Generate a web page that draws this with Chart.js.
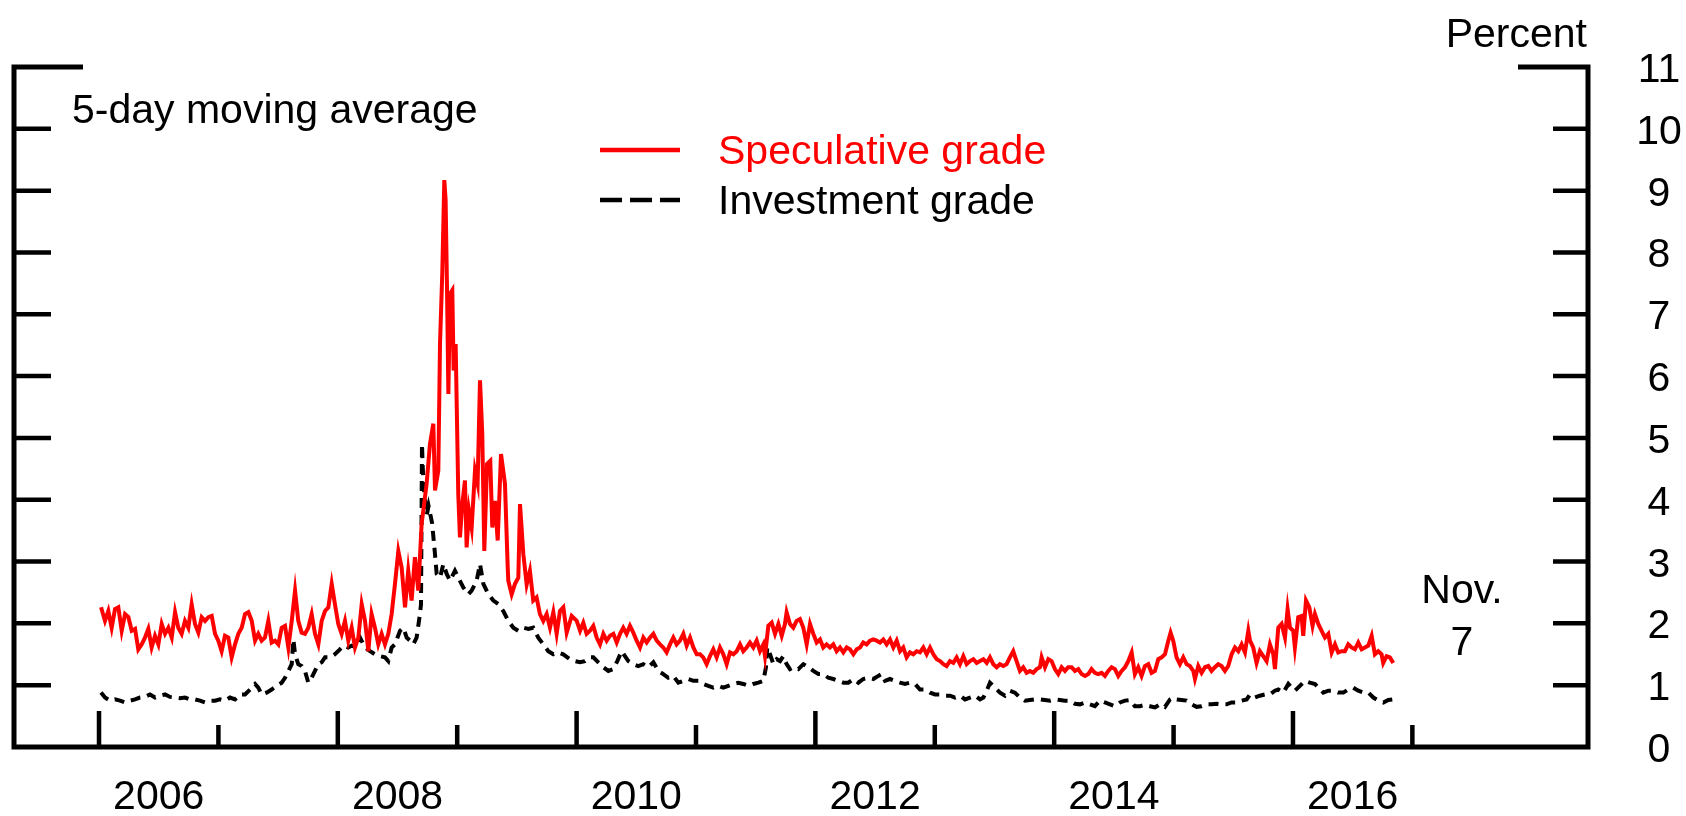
<!DOCTYPE html>
<html><head><meta charset="utf-8">
<script src="https://cdn.jsdelivr.net/npm/chart.js@4.4.1/dist/chart.umd.min.js"></script>
<style>html,body{margin:0;padding:0;background:#fff;}canvas{display:block;}</style>
</head><body>
<canvas id="c" width="1686" height="816"></canvas>
<script>
// Speculative grade (decimal year, percent)
const specDates = [
2006.017,2006.050,2006.078,2006.106,2006.134,2006.162,2006.190,2006.218,2006.246,2006.274,2006.302,2006.329,2006.357,2006.385,2006.413,2006.441,2006.469,2006.497,2006.525,2006.553,2006.581,2006.609,2006.637,2006.664,2006.692,2006.720,2006.748,2006.776,2006.804,2006.832,2006.860,2006.888,2006.916,2006.944,2006.972,2006.999,
2007.027,2007.055,2007.083,2007.111,2007.139,2007.167,2007.195,2007.223,2007.251,2007.279,2007.307,2007.334,2007.362,2007.390,2007.418,2007.446,2007.474,2007.502,2007.530,2007.558,2007.586,2007.614,2007.642,2007.669,2007.697,2007.725,2007.753,2007.781,2007.809,2007.837,2007.865,2007.893,2007.921,2007.949,2007.976,
2008.004,2008.032,2008.060,2008.088,2008.116,2008.144,2008.172,2008.200,2008.228,2008.256,2008.283,2008.311,2008.339,2008.367,2008.395,2008.423,2008.451,2008.479,2008.507,2008.535,2008.563,2008.590,2008.618,2008.646,2008.674,2008.702,
2008.716,2008.744,2008.772,2008.800,2008.814,2008.842,2008.856,2008.875,2008.892,2008.903,2008.915,2008.926,2008.940,2008.959,2008.970,2008.987,
2009.009,2009.023,2009.043,2009.065,2009.079,2009.099,2009.121,2009.149,2009.171,2009.191,2009.210,2009.227,2009.250,2009.277,2009.294,2009.317,2009.339,2009.367,2009.400,2009.423,
2009.428,2009.456,2009.484,2009.512,2009.526,2009.554,2009.582,2009.609,2009.637,2009.665,2009.693,2009.721,2009.749,2009.777,2009.805,2009.833,2009.861,2009.889,2009.917,2009.959,
2010.001,2010.029,2010.056,2010.084,2010.112,2010.140,2010.168,2010.196,2010.224,2010.252,2010.280,2010.308,2010.336,2010.364,2010.391,2010.419,2010.447,2010.475,2010.503,2010.531,2010.559,2010.587,2010.615,2010.643,2010.671,2010.699,2010.726,2010.754,2010.782,2010.810,2010.838,2010.866,2010.894,2010.922,2010.950,2010.978,
2011.006,2011.034,2011.061,2011.089,2011.117,2011.145,2011.173,2011.201,2011.229,2011.257,2011.285,2011.313,2011.341,2011.369,2011.396,2011.424,2011.452,2011.480,2011.508,2011.536,2011.564,2011.578,2011.606,2011.634,2011.662,2011.690,2011.718,2011.745,2011.759,2011.787,2011.815,2011.843,2011.871,2011.899,2011.927,2011.955,2011.983,
2012.011,2012.039,2012.066,2012.094,2012.122,2012.150,2012.178,2012.206,2012.234,2012.262,2012.290,2012.318,2012.346,2012.374,2012.401,2012.429,2012.457,2012.485,2012.513,2012.541,2012.569,2012.597,2012.625,2012.653,2012.681,2012.709,2012.736,2012.764,2012.792,2012.820,2012.848,2012.876,2012.904,2012.932,2012.960,2012.988,
2013.016,2013.044,2013.072,2013.099,2013.127,2013.155,2013.183,2013.211,2013.239,2013.267,2013.295,2013.323,2013.351,2013.379,2013.407,2013.435,2013.462,2013.490,2013.518,2013.546,2013.574,2013.602,2013.629,2013.657,2013.685,2013.713,2013.741,2013.769,2013.797,2013.825,2013.853,2013.881,2013.895,2013.923,2013.951,2013.978,
2014.006,2014.034,2014.062,2014.090,2014.118,2014.146,2014.174,2014.202,2014.230,2014.258,2014.286,2014.313,2014.341,2014.369,2014.397,2014.425,2014.453,2014.481,2014.509,2014.537,2014.565,2014.593,2014.621,2014.649,2014.676,2014.704,2014.732,2014.760,2014.788,2014.816,2014.844,2014.872,2014.900,2014.928,2014.956,2014.975,2014.997,
2015.025,2015.053,2015.081,2015.109,2015.137,2015.165,2015.179,2015.207,2015.235,2015.263,2015.291,2015.318,2015.346,2015.374,2015.402,2015.430,2015.458,2015.486,2015.514,2015.542,2015.570,2015.598,2015.626,2015.640,2015.667,2015.695,2015.723,2015.751,2015.779,2015.807,2015.835,2015.849,2015.877,2015.905,2015.933,2015.955,2015.975,
2016.002,2016.016,2016.044,2016.072,2016.086,2016.109,2016.137,2016.164,2016.184,2016.212,2016.240,2016.268,2016.296,2016.324,2016.352,2016.379,2016.407,2016.435,2016.463,2016.491,2016.519,2016.547,2016.575,2016.603,2016.631,2016.659,2016.686,2016.714,2016.742,2016.756,2016.784,2016.812,2016.840
];
const specValues = [
2.26,2.04,2.20,1.93,2.23,2.26,1.88,2.15,2.10,1.88,1.91,1.58,1.66,1.77,1.91,1.61,1.80,1.66,1.99,1.83,1.93,1.77,2.18,1.93,1.83,2.04,1.93,2.31,1.99,1.85,2.10,2.04,2.10,2.12,1.83,1.72,
1.55,1.80,1.77,1.45,1.66,1.83,1.93,2.15,2.18,2.04,1.72,1.83,1.72,1.77,2.04,1.69,1.72,1.66,1.93,1.96,1.61,2.04,2.53,2.04,1.85,1.83,1.93,2.15,1.83,1.66,2.04,2.20,2.26,2.64,2.31,
1.99,1.83,2.04,1.72,1.93,1.61,1.77,2.31,2.04,1.55,2.15,1.93,1.66,1.83,1.66,1.83,2.15,2.64,3.17,2.90,2.26,2.85,2.37,3.07,2.53,3.61,
3.82,4.26,4.90,5.23,4.15,4.47,6.52,7.66,9.17,8.85,7.39,5.71,7.33,7.39,6.09,6.52,
4.09,3.39,3.93,4.31,3.23,3.82,3.55,4.47,4.26,5.93,5.07,3.17,4.58,4.63,3.55,3.98,3.34,4.74,4.26,2.91,
2.69,2.47,2.64,2.74,3.93,3.12,2.63,2.85,2.37,2.42,2.15,2.04,2.15,1.93,2.18,1.83,2.20,2.26,1.85,2.12,
2.04,1.88,2.01,1.83,1.88,1.96,1.77,1.66,1.83,1.72,1.80,1.83,1.69,1.83,1.93,1.83,1.96,1.85,1.72,1.61,1.77,1.69,1.77,1.83,1.72,1.66,1.61,1.53,1.66,1.77,1.66,1.72,1.83,1.64,1.77,1.61,
1.50,1.50,1.45,1.34,1.47,1.58,1.45,1.61,1.50,1.34,1.53,1.50,1.55,1.66,1.55,1.61,1.69,1.61,1.72,1.55,1.66,1.47,1.96,2.01,1.83,1.99,1.80,1.99,2.18,1.99,1.93,2.04,2.07,1.93,1.66,1.99,1.83,
1.69,1.74,1.61,1.66,1.61,1.66,1.55,1.61,1.53,1.61,1.58,1.50,1.58,1.61,1.69,1.66,1.72,1.74,1.72,1.69,1.74,1.66,1.74,1.61,1.72,1.55,1.61,1.45,1.53,1.50,1.55,1.53,1.61,1.50,1.61,1.50,
1.42,1.39,1.34,1.31,1.39,1.36,1.45,1.34,1.47,1.34,1.39,1.42,1.36,1.39,1.42,1.36,1.45,1.34,1.29,1.34,1.31,1.34,1.45,1.55,1.39,1.23,1.29,1.20,1.23,1.20,1.26,1.29,1.45,1.29,1.42,1.39,
1.26,1.18,1.29,1.23,1.29,1.29,1.23,1.26,1.18,1.15,1.18,1.26,1.20,1.18,1.20,1.15,1.23,1.29,1.26,1.15,1.23,1.29,1.39,1.53,1.18,1.29,1.15,1.31,1.34,1.20,1.23,1.42,1.45,1.50,1.72,1.85,1.72,
1.45,1.34,1.45,1.34,1.31,1.23,1.10,1.31,1.20,1.29,1.31,1.23,1.29,1.34,1.31,1.23,1.31,1.50,1.61,1.55,1.66,1.53,1.88,1.72,1.61,1.36,1.55,1.47,1.39,1.66,1.50,1.26,1.93,1.99,1.77,2.23,1.93,
1.88,1.61,2.10,2.12,1.80,2.37,2.26,1.96,2.15,1.99,1.88,1.77,1.83,1.53,1.66,1.53,1.55,1.55,1.66,1.61,1.58,1.69,1.58,1.61,1.64,1.80,1.50,1.55,1.50,1.36,1.47,1.45,1.36
];
// Investment grade (decimal year, percent)
const invDates = [
2006.017,2006.050,2006.092,2006.134,2006.176,2006.218,2006.260,2006.302,2006.343,2006.385,2006.427,2006.469,2006.511,2006.553,2006.595,2006.637,2006.678,2006.720,2006.762,2006.804,2006.846,2006.888,2006.930,2006.972,
2007.013,2007.055,2007.097,2007.139,2007.181,2007.223,2007.265,2007.307,2007.334,2007.362,2007.404,2007.446,2007.488,2007.530,2007.558,2007.586,2007.614,2007.628,2007.642,2007.669,2007.697,2007.725,2007.753,2007.781,2007.809,2007.837,2007.865,2007.893,2007.935,2007.976,
2008.018,2008.046,2008.088,2008.116,2008.158,2008.186,2008.228,2008.270,2008.311,2008.353,2008.395,2008.423,2008.451,2008.479,2008.521,2008.549,2008.577,2008.605,2008.632,2008.660,2008.688,2008.697,2008.705,2008.712,2008.722,2008.745,2008.760,2008.790,2008.814,2008.828,2008.856,2008.884,2008.912,2008.940,2008.981,
2009.009,2009.051,2009.093,2009.121,2009.163,2009.191,2009.219,2009.261,2009.303,2009.345,2009.386,2009.428,2009.470,2009.512,2009.554,2009.596,2009.637,2009.679,2009.721,2009.763,2009.805,2009.847,2009.888,2009.945,2009.987,
2010.029,2010.070,2010.112,2010.140,2010.182,2010.224,2010.266,2010.308,2010.341,2010.377,2010.405,2010.433,2010.475,2010.517,2010.559,2010.601,2010.643,2010.685,2010.726,2010.768,2010.810,2010.852,2010.894,2010.936,2010.978,
2011.020,2011.061,2011.103,2011.145,2011.187,2011.229,2011.271,2011.313,2011.355,2011.396,2011.438,2011.480,2011.522,2011.564,2011.586,2011.597,2011.620,2011.648,2011.676,2011.704,2011.731,2011.759,2011.787,2011.815,2011.857,2011.899,2011.941,2011.983,
2012.025,2012.066,2012.108,2012.150,2012.192,2012.234,2012.276,2012.318,2012.360,2012.401,2012.443,2012.485,2012.527,2012.555,2012.583,2012.625,2012.667,2012.709,2012.750,2012.792,2012.834,2012.876,2012.918,2012.960,
2013.002,2013.044,2013.086,2013.128,2013.169,2013.211,2013.253,2013.295,2013.337,2013.379,2013.407,2013.435,2013.462,2013.504,2013.546,2013.588,2013.630,2013.671,2013.713,2013.755,2013.797,2013.839,2013.881,2013.923,2013.965,
2014.006,2014.048,2014.090,2014.132,2014.174,2014.216,2014.258,2014.300,2014.341,2014.383,2014.425,2014.467,2014.509,2014.551,2014.593,2014.635,2014.676,2014.718,2014.760,2014.802,2014.844,2014.886,2014.928,2014.970,2014.997,
2015.025,2015.067,2015.109,2015.151,2015.193,2015.235,2015.277,2015.319,2015.360,2015.402,2015.444,2015.486,2015.528,2015.570,2015.612,2015.640,2015.681,2015.723,2015.765,2015.807,2015.849,2015.877,2015.919,2015.961,2015.989,
2016.016,2016.058,2016.100,2016.142,2016.184,2016.212,2016.254,2016.296,2016.338,2016.379,2016.421,2016.463,2016.505,2016.547,2016.589,2016.631,2016.673,2016.715,2016.757,2016.798,2016.840
];
const invValues = [
0.88,0.80,0.75,0.77,0.75,0.72,0.75,0.77,0.80,0.81,0.85,0.80,0.83,0.85,0.81,0.80,0.79,0.80,0.77,0.77,0.75,0.72,0.75,0.75,
0.77,0.75,0.80,0.77,0.85,0.85,0.93,1.02,0.96,0.85,0.88,0.93,0.99,1.04,1.12,1.23,1.34,1.74,1.50,1.34,1.31,1.23,1.04,1.12,1.23,1.34,1.37,1.45,1.45,1.50,
1.58,1.64,1.61,1.64,1.61,1.77,1.61,1.55,1.50,1.47,1.45,1.39,1.61,1.66,1.88,1.93,1.77,1.72,1.66,1.77,2.15,2.31,4.90,4.50,4.15,3.75,3.90,3.62,3.12,2.80,2.74,2.96,2.80,2.69,2.85,
2.74,2.58,2.47,2.53,2.69,2.96,2.64,2.47,2.37,2.31,2.20,2.04,1.93,1.88,1.93,1.91,1.93,1.77,1.66,1.55,1.50,1.53,1.50,1.42,1.39,
1.37,1.39,1.45,1.45,1.37,1.29,1.23,1.26,1.39,1.55,1.47,1.39,1.34,1.31,1.34,1.29,1.37,1.23,1.18,1.12,1.15,1.04,1.07,1.10,1.07,
1.07,1.02,0.99,0.96,0.99,0.96,0.99,1.02,1.04,1.02,0.99,1.02,1.04,1.07,1.29,1.61,1.50,1.34,1.42,1.39,1.47,1.34,1.26,1.29,1.26,1.34,1.29,1.23,
1.18,1.18,1.12,1.10,1.07,1.04,1.04,1.10,1.04,1.10,1.12,1.10,1.15,1.18,1.07,1.10,1.07,1.04,1.02,1.04,1.02,0.93,0.93,0.88,
0.85,0.85,0.83,0.83,0.80,0.83,0.77,0.80,0.83,0.77,0.80,0.91,1.04,0.96,0.88,0.83,0.91,0.88,0.80,0.75,0.76,0.77,0.77,0.76,0.75,
0.77,0.76,0.75,0.75,0.70,0.69,0.72,0.69,0.66,0.75,0.72,0.69,0.66,0.72,0.75,0.76,0.66,0.66,0.68,0.66,0.64,0.69,0.65,0.77,0.80,
0.77,0.76,0.75,0.69,0.65,0.66,0.69,0.69,0.70,0.69,0.69,0.72,0.72,0.75,0.77,0.85,0.80,0.83,0.85,0.85,0.91,0.93,0.88,1.02,0.96,
0.91,0.99,1.07,1.04,1.02,0.96,0.88,0.91,0.91,0.88,0.88,0.93,0.96,0.91,0.88,0.88,0.80,0.75,0.72,0.76,0.77
];
const yTicks = [0,1,2,3,4,5,6,7,8,9,10,11];
const xTickYears = [2006,2007,2008,2009,2010,2011,2012,2013,2014,2015,2016,2017];
const xLabels = ['2006','2008','2010','2012','2014','2016'];
const xLabelYears = [2006.5,2008.5,2010.5,2012.5,2014.5,2016.5];
const seriesNames = ['Speculative grade','Investment grade'];

const FONT = '41px "Liberation Sans", Arial, Helvetica, sans-serif';
const RED = '#ff0000';

const decor = {
  id: 'decor',
  afterDraw(chart) {
    const ctx = chart.ctx, a = chart.chartArea;
    const xs = chart.scales.x, ys = chart.scales.y;
    ctx.save();
    ctx.strokeStyle = '#000';
    ctx.lineWidth = 5;
    ctx.lineCap = 'butt';
    ctx.lineJoin = 'miter';
    // frame (open top with corner ticks)
    ctx.beginPath();
    ctx.moveTo(a.left + 69, a.top);
    ctx.lineTo(a.left, a.top);
    ctx.lineTo(a.left, a.bottom);
    ctx.lineTo(a.right, a.bottom);
    ctx.lineTo(a.right, a.top);
    ctx.lineTo(a.right - 70, a.top);
    ctx.stroke();
    // y ticks both sides
    ctx.lineWidth = 4.5;
    ctx.beginPath();
    yTicks.forEach(v => {
      if (v <= ys.min || v >= ys.max) return;
      const py = ys.getPixelForValue(v);
      ctx.moveTo(a.left, py); ctx.lineTo(a.left + 37, py);
      ctx.moveTo(a.right - 35, py); ctx.lineTo(a.right, py);
    });
    // x ticks (long on even years, short on odd)
    xTickYears.forEach(yr => {
      const px = xs.getPixelForValue(yr);
      const len = (yr % 2 === 0) ? 36 : 22;
      ctx.moveTo(px, a.bottom); ctx.lineTo(px, a.bottom - len);
    });
    ctx.stroke();

    ctx.font = FONT;
    ctx.fillStyle = '#000';
    ctx.textBaseline = 'alphabetic';
    // y tick labels on right
    ctx.textAlign = 'center';
    yTicks.forEach(v => {
      ctx.fillText(String(v), a.right + 71, ys.getPixelForValue(v) + 15);
    });
    // x labels
    xLabels.forEach((t, i) => {
      ctx.fillText(t, xs.getPixelForValue(xLabelYears[i]), a.bottom + 62);
    });
    // unit label
    ctx.textAlign = 'right';
    ctx.fillText('Percent', a.right - 1, a.top - 20);
    // note
    ctx.textAlign = 'left';
    ctx.fillText('5-day moving average', a.left + 58, a.top + 56);
    // legend
    const ds = chart.data.datasets;
    const lx0 = 600, lx1 = 680, tx = 718;
    const rows = [150, 200];
    ds.forEach((d, i) => {
      ctx.save();
      ctx.strokeStyle = d.borderColor;
      ctx.lineWidth = 4.5;
      ctx.setLineDash(i === 1 ? [22, 8] : []);
      ctx.beginPath();
      ctx.moveTo(lx0, rows[i]); ctx.lineTo(lx1, rows[i]);
      ctx.stroke();
      ctx.restore();
      ctx.fillStyle = i === 0 ? RED : '#000';
      ctx.fillText(d.label, tx, rows[i] + 14);
    });
    // end-date note
    ctx.fillStyle = '#000';
    ctx.textAlign = 'center';
    ctx.fillText('Nov.', 1462, 603);
    ctx.fillText('7', 1462, 655);
    ctx.restore();
  }
};

new Chart(document.getElementById('c'), {
  type: 'line',
  data: {
    datasets: [
      { label: seriesNames[0], data: specDates.map((d, i) => ({ x: d, y: specValues[i] })),
        borderColor: RED, borderWidth: 4, pointRadius: 0, tension: 0, fill: false },
      { label: seriesNames[1], data: invDates.map((d, i) => ({ x: d, y: invValues[i] })),
        borderColor: '#000', borderWidth: 4, borderDash: [10, 7], pointRadius: 0, tension: 0, fill: false }
    ]
  },
  options: {
    responsive: false,
    devicePixelRatio: 1,
    animation: false,
    layout: { padding: { left: 14, right: 98, top: 67, bottom: 69 } },
    scales: {
      x: { type: 'linear', min: 2005.288, max: 2018.471, display: false },
      y: { type: 'linear', min: 0, max: 11, display: false }
    },
    plugins: { legend: { display: false }, tooltip: { enabled: false } }
  },
  plugins: [decor]
});
</script>
</body></html>
